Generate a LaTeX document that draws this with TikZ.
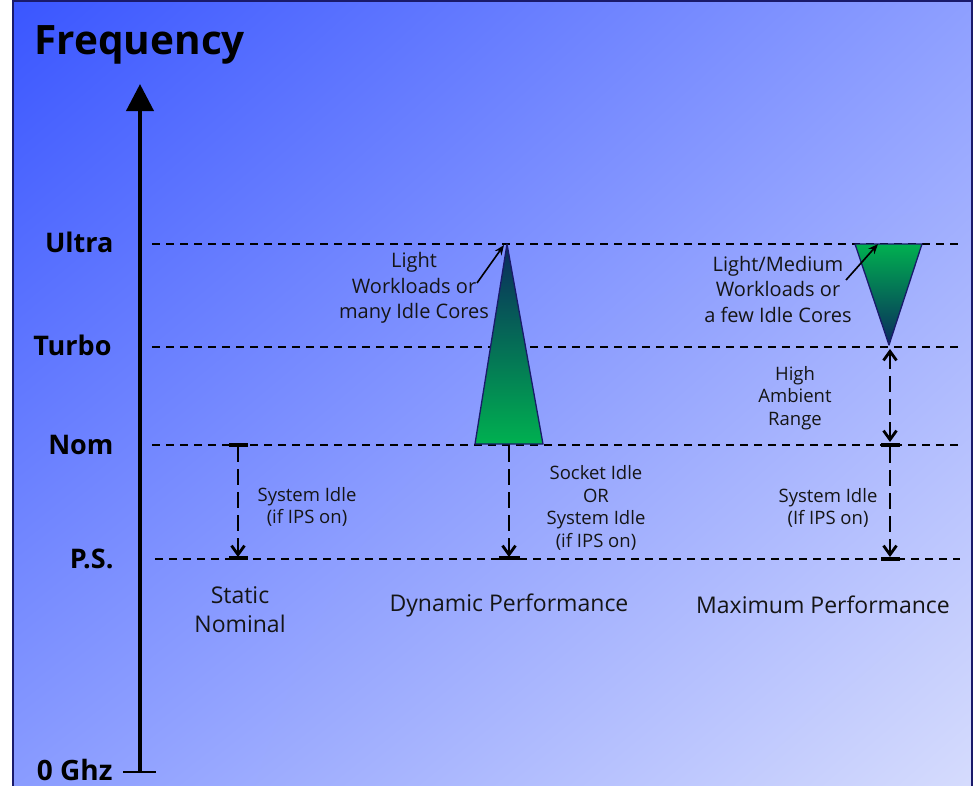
\documentclass[tikz,border=0pt]{standalone}
\usepackage{fontspec}
\setmainfont{Open Sans}
\usetikzlibrary{arrows.meta,shadings}
\definecolor{bgTL}{HTML}{3A56FF}
\definecolor{bgTR}{HTML}{8E9FFF}
\definecolor{bgBL}{HTML}{8A9CFF}
\definecolor{bgBR}{HTML}{D6DCFD}
\definecolor{frame}{HTML}{1A1A6A}
\definecolor{navyd}{HTML}{0A2A5C}
\definecolor{grn}{HTML}{00B050}
\definecolor{grnm}{HTML}{00A457}
\definecolor{txt}{HTML}{151515}
\tikzset{mybarb/.tip={Straight Barb[length=9pt,width=13pt]}}
\begin{document}
\begin{tikzpicture}[x=1pt,y=-1pt,
  lvl/.style={font=\fontsize{27}{30}\selectfont\bfseries, anchor=base east},
  bodytxt/.style={font=\fontsize{20}{25.5}\selectfont, align=center, text=txt},
  smalltxt/.style={font=\fontsize{18.5}{22.5}\selectfont, align=center, text=txt},
  captxt/.style={font=\fontsize{23}{29}\selectfont, align=center, text=txt},
  guide/.style={line width=1.3pt, dash pattern=on 8pt off 6pt},
  spanline/.style={line width=2.8pt, dash pattern=on 16pt off 7pt},
  tbar/.style={line width=4pt},
  ptr/.style={line width=1.6pt, -{Stealth[length=10pt,width=8pt]}},
]
\useasboundingbox (0,0) rectangle (975,785);
% background
\shade[upper left=bgTL, upper right=bgTR, lower left=bgBL, lower right=bgBR] (13,1) rectangle (972,792);
\draw[frame, line width=1.5pt] (13,792) -- (13,1) -- (972,1) -- (972,792);

% title
\node[font=\fontsize{40.5}{44}\selectfont\bfseries, anchor=base west] (title) at (31,54) {Frequency};

% axis
\coordinate (axb) at (140,772);
\coordinate (axt) at (140,84);
\draw[line width=4pt, -{Triangle[length=27pt,width=27pt]}] (axb) -- (axt);
\coordinate (tk1) at (123,772);
\coordinate (tk2) at (156,772);
\draw[line width=2pt] (tk1) -- (tk2);

% level labels
\node[lvl] (ultra) at (117,252) {Ultra};
\node[lvl] (turbo) at (115,355) {Turbo};
\node[lvl] (nom) at (117,454) {Nom};
\node[lvl] (ps) at (117,568) {P.S.};
\node[lvl, font=\fontsize{28}{30}\selectfont\bfseries] (zero) at (116,780) {0 Ghz};

% guide lines
\coordinate (uL) at (152,244); \coordinate (uR) at (960,244);
\coordinate (tL) at (152,347); \coordinate (tR) at (960,347);
\coordinate (nL) at (152,445); \coordinate (nR) at (960,445);
\coordinate (pL) at (155,559); \coordinate (pR) at (960,559);
\draw[guide] (uL) -- (uR);
\draw[guide] (tL) -- (tR);
\draw[guide] (nL) -- (nR);
\draw[guide] (pL) -- (pR);

% triangles
\coordinate (d1) at (507,244); \coordinate (d2) at (543,444); \coordinate (d3) at (475,444);
\shade[top color=navyd, middle color=grnm, bottom color=grn] (d1) -- (d2) -- (d3) -- cycle;
\draw[frame, line width=1.3pt, line join=round] (d1) -- (d2) -- (d3) -- cycle;
\coordinate (m1) at (855,244); \coordinate (m2) at (922,244); \coordinate (m3) at (889,345);
\shade[top color=grn, middle color=grnm!85!navyd, bottom color=navyd] (m1) -- (m2) -- (m3) -- cycle;
\draw[frame, line width=1.3pt, line join=round] (m1) -- (m2) -- (m3) -- cycle;

% static nominal
\coordinate (sT) at (238,446); \coordinate (sB) at (238,557);
\draw[spanline, -{mybarb}] (sT) -- (sB);
\coordinate (sb1) at (229,445); \coordinate (sb2) at (248,445);
\coordinate (sb3) at (229,558); \coordinate (sb4) at (248,558);
\draw[tbar] (sb1) -- (sb2);
\draw[tbar] (sb3) -- (sb4);
\node[smalltxt] (si1) at (307,507) {System Idle\\(if IPS on)};
\node[captxt] (sn) at (240,610) {Static\\Nominal};

% dynamic
\coordinate (dT) at (509,446); \coordinate (dB) at (509,557);
\draw[spanline, -{mybarb}] (dT) -- (dB);
\coordinate (db1) at (499,558); \coordinate (db2) at (520,558);
\draw[tbar] (db1) -- (db2);
\node[smalltxt] (sock) at (596,508) {Socket Idle\\OR\\System Idle\\(if IPS on)};
\node[bodytxt] (lw) at (414,288) {Light\\Workloads or\\many Idle Cores};
\coordinate (la1) at (477,283); \coordinate (la2) at (504,245);
\draw[ptr] (la1) -- (la2);
\node[captxt] (dp) at (509,605) {Dynamic Performance};

% maximum
\node[bodytxt] (lmw) at (778,289) {Light/Medium\\Workloads or\\a few Idle Cores};
\coordinate (ma1) at (846,280); \coordinate (ma2) at (878,244);
\draw[ptr] (ma1) -- (ma2);
\coordinate (mT) at (890,349); \coordinate (mN) at (890,442);
\draw[spanline, {mybarb}-{mybarb}] (mT) -- (mN);
\coordinate (mb1) at (881,445); \coordinate (mb2) at (900,445);
\draw[tbar] (mb1) -- (mb2);
\coordinate (mN2) at (890,447); \coordinate (mP) at (890,557);
\draw[spanline, -{mybarb}] (mN2) -- (mP);
\coordinate (mb3) at (881,559); \coordinate (mb4) at (900,559);
\draw[tbar] (mb3) -- (mb4);
\node[smalltxt] (har) at (795,398) {High\\Ambient\\Range};
\node[smalltxt] (si2) at (828,508) {System Idle\\(If IPS on)};
\node[captxt] (mp) at (823,605) {Maximum Performance};
\end{tikzpicture}
\end{document}
